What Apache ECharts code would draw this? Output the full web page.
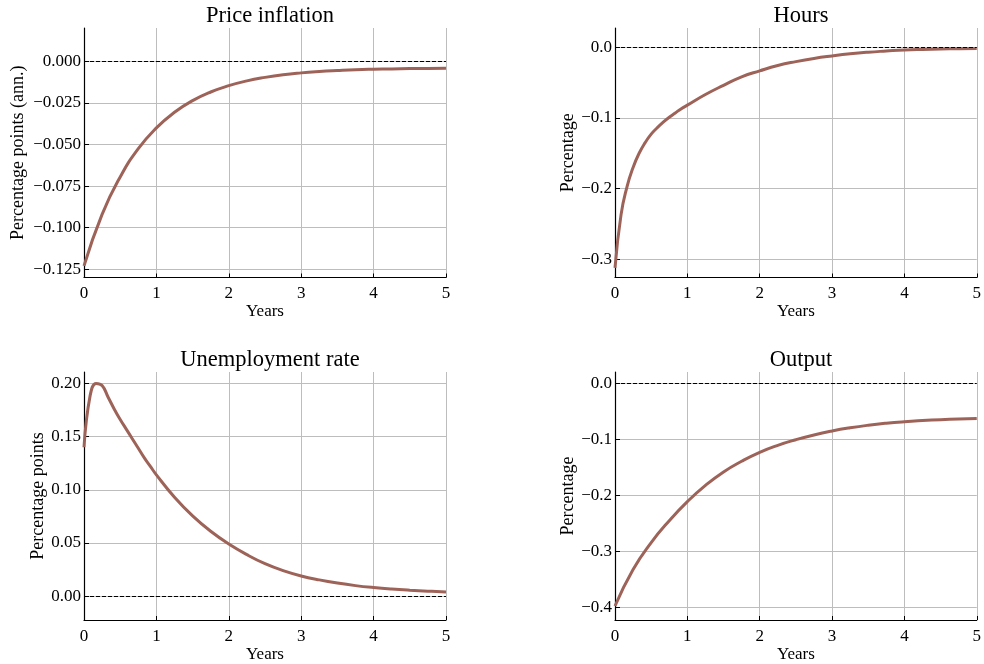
<!DOCTYPE html>
<html>
<head>
<meta charset="utf-8">
<script src="https://cdn.jsdelivr.net/npm/echarts@6/dist/echarts.min.js"></script>
<style>
html,body{margin:0;padding:0;background:#fff;}
#chart{width:984px;height:664px;}
</style>
</head>
<body>
<div id="chart"></div>
<script>
// ---- Data ----
const tQuarterly = [0,0.25,0.5,0.75,1,1.25,1.5,1.75,2,2.25,2.5,2.75,3,3.25,3.5,3.75,4,4.25,4.5,4.75,5];
const tMixed = [0,0.0833,0.1667,0.25,0.3333,0.4167,0.5,0.5833,0.6667,0.75,0.8333,0.9167,1,
                1.25,1.5,1.75,2,2.25,2.5,2.75,3,3.25,3.5,3.75,4,4.25,4.5,4.75,5];

const inflation = [-0.123,-0.092,-0.0695,-0.0525,-0.040,-0.0306,-0.0236,-0.0184,-0.0146,-0.0117,-0.0096,
                   -0.0080,-0.0069,-0.0061,-0.0055,-0.0050,-0.0047,-0.0045,-0.0043,-0.0042,-0.0041];
const hours = [-0.312,-0.237,-0.197,-0.170,-0.150,-0.135,-0.123,-0.114,-0.106,-0.099,-0.093,-0.087,-0.082,
               -0.067,-0.054,-0.042,-0.0335,-0.026,-0.0205,-0.016,-0.0125,-0.0095,-0.0072,-0.0055,
               -0.0040,-0.0032,-0.0027,-0.0023,-0.0020];
const unemployment = [0.140,0.188,0.200,0.198,0.187,0.176,0.166,0.157,0.148,0.139,0.130,0.122,0.114,
                      0.093,0.0755,0.061,0.049,0.039,0.0305,0.024,0.019,0.0153,0.0123,0.0099,
                      0.0081,0.0067,0.0056,0.0047,0.004];
const output = [-0.397,-0.332,-0.284,-0.245,-0.211,-0.182,-0.158,-0.139,-0.123,-0.1105,-0.1005,
                -0.0920,-0.0850,-0.0793,-0.0747,-0.0711,-0.0684,-0.0664,-0.0648,-0.0636,-0.0627];

const titles = ['Price inflation','Hours','Unemployment rate','Output'];
const yNames = ['Percentage points (ann.)','Percentage','Percentage points','Percentage'];
const xName = 'Years';
const xTicks = [0,1,2,3,4,5];
const yTicks1 = [-0.125,-0.1,-0.075,-0.05,-0.025,0];
const yTicks2 = [-0.3,-0.2,-0.1,0];
const yTicks3 = [0,0.05,0.1,0.15,0.2];
const yTicks4 = [-0.4,-0.3,-0.2,-0.1,0];

// ---- Layout / style ----
const FONT = '"Liberation Serif", "DejaVu Serif", serif';
const LINE_COLOR = '#9d6358';
const panels = [
  {left:84, top:28, x:tQuarterly, y:inflation, ticks:yTicks1, dec:3, min:-0.13, max:0.0201, gap:57, smooth:true},
  {left:615, top:28, x:tMixed, y:hours, ticks:yTicks2, dec:1, min:-0.3255, max:0.027, gap:38, smooth:true},
  {left:84, top:372, x:tMixed, y:unemployment, ticks:yTicks3, dec:2, min:-0.0224, max:0.2107, gap:33, smooth:0.45},
  {left:615, top:372, x:tQuarterly, y:output, ticks:yTicks4, dec:1, min:-0.422, max:0.0202, gap:38, smooth:true}
];
const W = 362, H = 249.5;

function fmt(v, d){
  const s = Math.abs(v) < 1e-12 ? (0).toFixed(d) : v.toFixed(d);
  return s.replace('-', '\u2212');
}

const option = {
  animation:false,
  backgroundColor:'#fff',
  title: panels.map((p,i)=>({
    text:titles[i], left:p.left + W/2, top:p.top - 28, textAlign:'center',
    textStyle:{fontFamily:FONT, fontSize:22.5, fontWeight:'normal', color:'#000'}
  })),
  grid: panels.map(p=>({left:p.left, top:p.top, width:W, height:H, containLabel:false})),
  xAxis: panels.map((p,i)=>({
    type:'value', gridIndex:i, min:0, max:5, interval:1,
    name:xName, nameLocation:'middle', nameGap:26,
    nameTextStyle:{fontFamily:FONT, fontSize:17, color:'#000'},
    axisLine:{show:true, onZero:false, lineStyle:{color:'#000', width:1.2}},
    axisTick:{show:true, inside:true, length:4, lineStyle:{color:'#000'}, customValues:xTicks},
    axisLabel:{fontFamily:FONT, fontSize:17, color:'#000', margin:8, customValues:xTicks},
    splitLine:{show:true, lineStyle:{color:'#bdbdbd', width:1}}
  })),
  yAxis: panels.map((p,i)=>({
    type:'value', gridIndex:i, min:p.min, max:p.max,
    name:yNames[i], nameLocation:'middle', nameGap:p.gap,
    nameTextStyle:{fontFamily:FONT, fontSize:18, color:'#000'},
    axisLine:{show:true, onZero:false, lineStyle:{color:'#000', width:1.2}},
    axisTick:{show:true, inside:true, length:5, lineStyle:{color:'#000'}, customValues:p.ticks},
    axisLabel:{fontFamily:FONT, fontSize:17, color:'#000', margin:3, customValues:p.ticks,
               formatter:(v)=>fmt(v, p.dec)},
    splitLine:{show:true, lineStyle:{color:'#bdbdbd', width:1}}
  })),
  series: panels.map((p,i)=>({
    type:'line', xAxisIndex:i, yAxisIndex:i,
    data:p.x.map((t,k)=>[t, p.y[k]]),
    showSymbol:false, smooth:p.smooth,
    lineStyle:{color:LINE_COLOR, width:3},
    itemStyle:{color:LINE_COLOR},
    clip:true,
    markLine:{
      silent:true, symbol:'none', label:{show:false},
      lineStyle:{color:'#000', type:[4,2], width:1},
      data:[{yAxis:0}]
    }
  }))
};

const chart = echarts.init(document.getElementById('chart'), null, {renderer:'canvas'});
chart.setOption(option);
</script>
</body>
</html>
